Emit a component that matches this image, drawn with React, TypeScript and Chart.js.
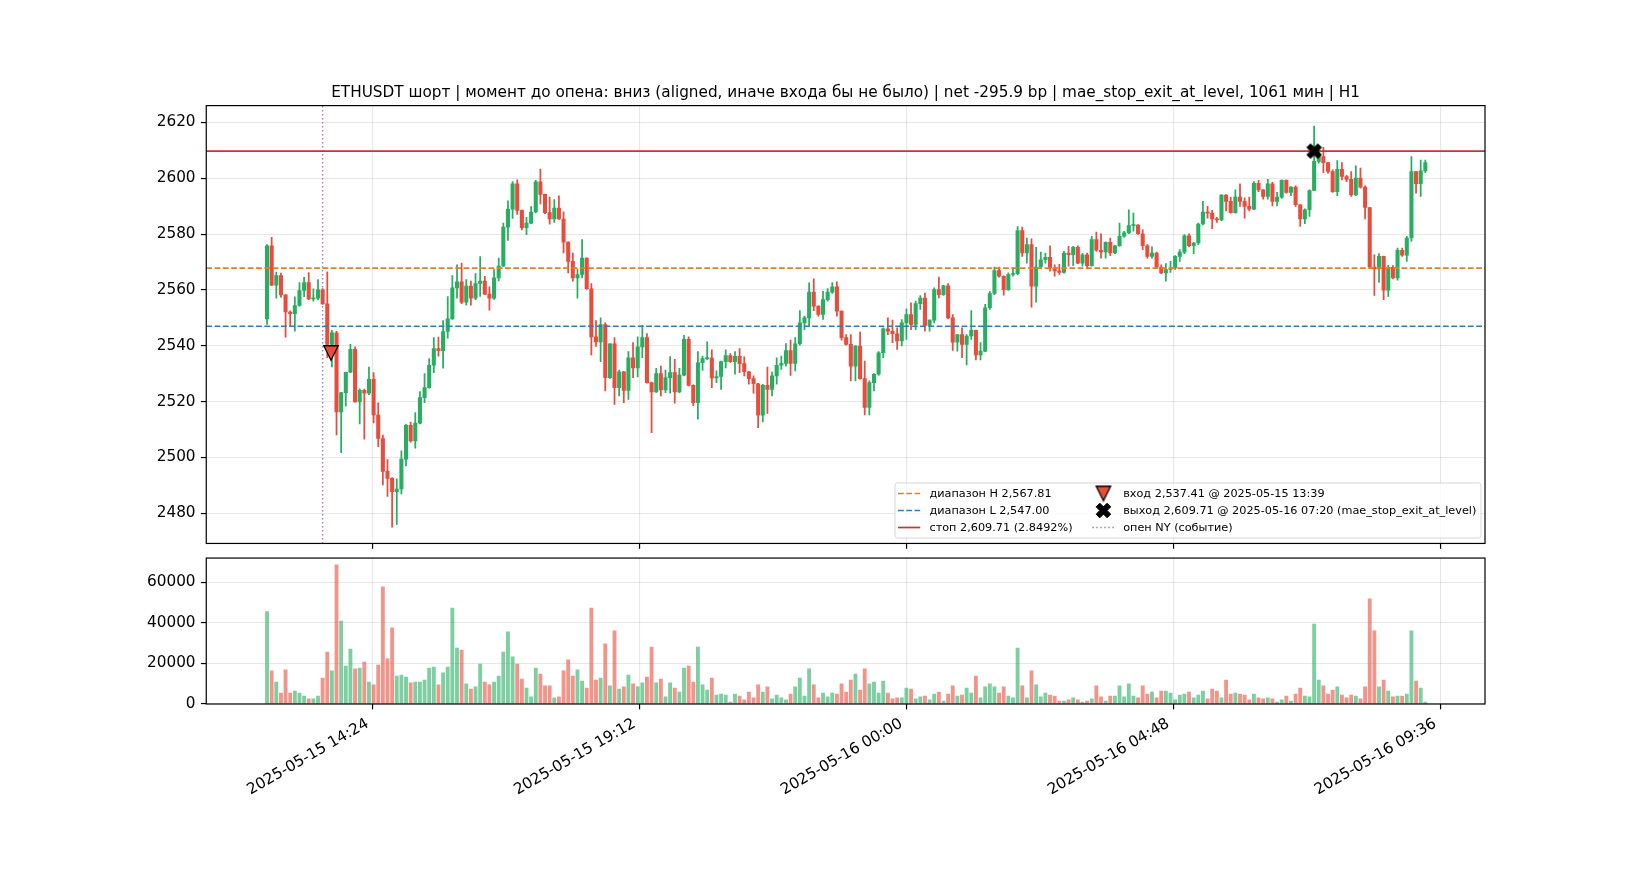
import React, { useEffect, useRef } from "react";
import { Chart, registerables } from "chart.js";

Chart.register(...registerables);

// ---------------- data ----------------
const chartTitle =
  "ETHUSDT шорт | момент до опена: вниз (aligned, иначе входа бы не было) | net -295.9 bp | mae_stop_exit_at_level, 1061 мин | H1";

// bar times: minutes since 2025-05-15 00:00, 5-minute candles from 12:30
const firstBarMinute = 750;
const barStepMinutes = 5;

const opens = [
  2549.6, 2575.8, 2561.7, 2565.1, 2558.2, 2552.1, 2551.5, 2554.4, 2559.8, 2562.6,
  2556.8, 2557.0, 2560.0, 2555.0, 2540.5, 2544.6, 2516.3, 2523.2, 2530.5, 2538.7,
  2519.9, 2524.0, 2523.0, 2528.0, 2515.2, 2506.8, 2495.0, 2492.5, 2487.7, 2488.7,
  2499.4, 2511.5, 2505.9, 2512.3, 2521.4, 2525.0, 2533.0, 2539.0, 2538.2, 2545.1,
  2549.6, 2560.7, 2562.9, 2555.6, 2561.4, 2557.0, 2562.3, 2563.2, 2558.5, 2557.0,
  2564.3, 2568.5, 2582.5, 2588.9, 2598.0, 2588.5, 2582.3, 2583.9, 2587.9, 2598.7,
  2594.2, 2587.7, 2585.4, 2589.3, 2585.4, 2577.1, 2570.2, 2564.3, 2565.5, 2571.4,
  2560.4, 2543.2, 2541.4, 2547.6, 2528.6, 2540.7, 2525.0, 2530.7, 2524.0, 2535.7,
  2532.1, 2539.6, 2542.9, 2526.8, 2523.5, 2530.0, 2524.2, 2528.6, 2530.4, 2523.5,
  2529.5, 2542.3, 2525.8, 2519.6, 2533.9, 2535.4, 2535.6, 2528.5, 2529.0, 2534.3,
  2536.5, 2534.3, 2536.2, 2533.6, 2530.7, 2528.2, 2526.4, 2515.1, 2525.8, 2524.4,
  2529.2, 2533.0, 2533.7, 2538.3, 2533.7, 2540.7, 2548.2, 2550.0, 2559.2, 2554.2,
  2551.2, 2556.5, 2559.2, 2561.1, 2552.4, 2542.9, 2540.5, 2532.7, 2539.9, 2528.2,
  2517.9, 2526.8, 2529.8, 2537.5, 2546.1, 2545.2, 2544.3, 2541.7, 2548.2, 2551.2,
  2547.6, 2555.1, 2557.1, 2547.3, 2549.2, 2560.1, 2558.3, 2561.5, 2550.0, 2541.3,
  2544.0, 2540.5, 2543.5, 2545.5, 2536.7, 2538.1, 2553.6, 2558.7, 2566.9, 2564.9,
  2560.1, 2565.5, 2565.8, 2581.2, 2573.2, 2576.2, 2561.3, 2568.2, 2570.8, 2571.7,
  2567.9, 2566.8, 2566.3, 2573.2, 2572.6, 2575.2, 2569.6, 2572.6, 2568.7, 2578.0,
  2574.2, 2573.6, 2577.0, 2573.2, 2575.8, 2579.2, 2580.4, 2583.0, 2583.2, 2580.1,
  2575.8, 2572.0, 2573.2, 2568.2, 2566.1, 2567.3, 2567.9, 2572.0, 2573.5, 2579.4,
  2575.8, 2576.8, 2583.6, 2587.9, 2587.5, 2585.4, 2585.1, 2594.0, 2591.7, 2587.7,
  2593.2, 2591.7, 2589.9, 2588.9, 2598.2, 2595.8, 2593.5, 2598.0, 2591.7, 2593.2,
  2599.2, 2594.9, 2596.8, 2590.5, 2585.4, 2588.7, 2595.6, 2606.0, 2607.7, 2605.6,
  2602.4, 2595.2, 2603.2, 2600.6, 2599.6, 2594.0, 2600.0, 2596.8, 2589.5, 2568.2,
  2567.5, 2572.0, 2559.9, 2568.1, 2564.3, 2574.2, 2572.4, 2578.6, 2602.4, 2598.0,
  2602.6,
];

const highs = [
  2576.2, 2578.8, 2566.4, 2566.0, 2558.3, 2552.5, 2557.5, 2562.6, 2564.5, 2566.2,
  2560.4, 2563.7, 2560.5, 2566.5, 2545.5, 2545.2, 2523.3, 2530.5, 2540.5, 2539.6,
  2524.6, 2524.5, 2532.4, 2530.4, 2519.6, 2508.0, 2499.2, 2492.8, 2492.3, 2502.4,
  2511.9, 2512.7, 2516.1, 2523.6, 2530.0, 2535.4, 2542.9, 2543.1, 2549.0, 2557.6,
  2565.1, 2569.0, 2569.6, 2563.7, 2563.2, 2565.8, 2571.9, 2564.9, 2561.1, 2567.3,
  2571.4, 2583.9, 2591.9, 2598.8, 2599.4, 2588.6, 2586.0, 2589.8, 2599.2, 2603.3,
  2594.3, 2593.2, 2592.3, 2593.7, 2588.0, 2577.2, 2573.2, 2567.5, 2578.0, 2571.5,
  2562.3, 2549.0, 2550.0, 2548.2, 2540.8, 2542.9, 2531.3, 2530.8, 2537.9, 2541.1,
  2543.2, 2547.3, 2544.4, 2527.0, 2531.9, 2532.7, 2531.3, 2536.1, 2535.1, 2531.9,
  2543.7, 2543.2, 2526.0, 2537.9, 2536.3, 2541.4, 2538.5, 2531.0, 2534.5, 2538.5,
  2537.2, 2537.9, 2539.0, 2536.0, 2530.8, 2529.2, 2526.5, 2526.2, 2532.4, 2530.6,
  2535.7, 2536.3, 2540.8, 2542.0, 2542.9, 2552.6, 2550.6, 2562.5, 2564.0, 2554.3,
  2559.5, 2560.5, 2562.6, 2562.9, 2552.5, 2544.0, 2544.0, 2540.1, 2544.9, 2534.5,
  2527.4, 2530.0, 2537.9, 2546.4, 2550.0, 2549.2, 2546.4, 2549.4, 2553.2, 2555.4,
  2556.0, 2558.0, 2558.9, 2549.3, 2560.7, 2564.6, 2561.6, 2562.3, 2551.2, 2544.1,
  2546.4, 2544.0, 2552.6, 2545.6, 2541.1, 2554.8, 2559.5, 2568.2, 2568.2, 2565.0,
  2566.1, 2567.9, 2582.7, 2582.5, 2578.6, 2578.3, 2575.2, 2573.5, 2573.2, 2575.8,
  2569.0, 2569.2, 2573.8, 2575.6, 2575.6, 2575.8, 2573.0, 2573.2, 2579.2, 2580.7,
  2580.1, 2577.2, 2578.6, 2576.0, 2583.9, 2581.0, 2588.7, 2587.5, 2583.4, 2581.5,
  2576.2, 2575.4, 2573.5, 2569.0, 2569.4, 2570.2, 2572.3, 2574.4, 2579.8, 2580.1,
  2577.0, 2583.9, 2591.7, 2589.9, 2588.5, 2586.0, 2594.1, 2594.1, 2593.2, 2595.8,
  2598.0, 2593.0, 2593.2, 2598.8, 2599.2, 2595.9, 2599.6, 2598.5, 2594.9, 2599.4,
  2599.4, 2597.0, 2597.3, 2590.6, 2589.0, 2595.8, 2618.7, 2610.4, 2611.1, 2605.7,
  2603.0, 2606.3, 2605.6, 2601.0, 2602.4, 2604.4, 2603.6, 2597.3, 2589.6, 2572.6,
  2573.0, 2572.1, 2568.8, 2568.7, 2575.0, 2575.0, 2579.2, 2607.7, 2602.5, 2606.5,
  2606.5,
];

const lows = [
  2547.6, 2561.5, 2557.0, 2557.4, 2543.1, 2547.0, 2545.2, 2554.2, 2557.6, 2556.5,
  2556.0, 2556.4, 2554.8, 2535.7, 2532.4, 2508.1, 2501.7, 2518.4, 2530.4, 2519.8,
  2512.0, 2506.5, 2522.5, 2512.4, 2503.9, 2490.2, 2486.0, 2475.0, 2476.0, 2486.9,
  2497.0, 2505.5, 2503.3, 2512.0, 2519.6, 2524.8, 2530.4, 2536.3, 2532.0, 2542.7,
  2549.4, 2557.0, 2555.1, 2554.5, 2554.5, 2556.5, 2557.7, 2558.3, 2552.7, 2556.6,
  2563.2, 2568.4, 2577.7, 2585.6, 2587.0, 2581.5, 2579.8, 2583.7, 2587.6, 2590.8,
  2587.3, 2583.5, 2584.2, 2585.2, 2573.2, 2566.1, 2563.1, 2557.0, 2564.3, 2560.2,
  2536.7, 2539.8, 2534.3, 2523.8, 2528.3, 2519.0, 2522.0, 2519.6, 2520.8, 2528.6,
  2528.8, 2535.7, 2526.6, 2508.9, 2523.3, 2522.0, 2523.2, 2523.0, 2519.4, 2523.2,
  2529.2, 2525.6, 2518.5, 2513.7, 2531.2, 2535.0, 2525.0, 2526.8, 2524.4, 2532.1,
  2534.0, 2529.8, 2530.4, 2529.2, 2526.2, 2523.0, 2510.7, 2512.7, 2515.8, 2522.0,
  2526.2, 2531.5, 2532.7, 2529.4, 2531.0, 2540.2, 2545.8, 2547.0, 2552.6, 2550.6,
  2549.4, 2556.0, 2558.7, 2550.6, 2542.0, 2540.2, 2527.4, 2527.4, 2528.0, 2515.2,
  2515.2, 2523.8, 2529.4, 2535.7, 2544.0, 2541.1, 2538.7, 2539.9, 2542.3, 2545.8,
  2545.8, 2553.0, 2545.2, 2545.2, 2548.2, 2557.1, 2558.0, 2549.6, 2538.3, 2538.1,
  2535.7, 2533.1, 2542.3, 2534.9, 2534.9, 2537.9, 2553.0, 2558.3, 2564.6, 2558.1,
  2559.8, 2564.9, 2565.4, 2572.0, 2569.6, 2553.8, 2555.6, 2567.9, 2569.6, 2566.7,
  2564.9, 2565.5, 2566.0, 2568.5, 2568.7, 2569.4, 2568.5, 2567.5, 2568.5, 2573.8,
  2571.4, 2571.4, 2572.3, 2573.0, 2575.6, 2578.9, 2580.1, 2581.0, 2579.9, 2574.4,
  2571.4, 2571.4, 2567.9, 2565.8, 2563.1, 2566.3, 2567.3, 2570.2, 2573.0, 2575.4,
  2573.0, 2576.2, 2583.3, 2585.7, 2581.9, 2584.2, 2584.8, 2588.3, 2587.5, 2587.5,
  2589.9, 2585.7, 2588.3, 2588.7, 2595.2, 2592.5, 2592.5, 2590.1, 2590.1, 2592.8,
  2594.6, 2593.7, 2589.9, 2582.7, 2583.7, 2586.3, 2595.5, 2605.4, 2602.0, 2601.8,
  2594.9, 2593.7, 2599.4, 2598.8, 2593.5, 2593.7, 2596.4, 2585.4, 2567.9, 2558.0,
  2562.7, 2556.5, 2557.7, 2563.9, 2563.5, 2572.0, 2570.2, 2577.4, 2594.6, 2593.5,
  2602.0,
];

const closes = [
  2575.8, 2561.7, 2565.1, 2558.2, 2552.1, 2551.5, 2554.4, 2559.8, 2562.6, 2556.8,
  2557.0, 2560.0, 2555.0, 2540.5, 2544.6, 2516.3, 2523.2, 2530.5, 2538.7, 2519.9,
  2524.0, 2523.0, 2528.0, 2515.2, 2506.8, 2495.0, 2492.5, 2487.7, 2488.7, 2499.4,
  2511.5, 2505.9, 2512.3, 2521.4, 2525.0, 2533.0, 2539.0, 2538.2, 2545.1, 2549.6,
  2560.7, 2562.9, 2555.6, 2561.4, 2557.0, 2562.3, 2563.2, 2558.5, 2557.0, 2564.3,
  2568.5, 2582.5, 2588.9, 2598.0, 2588.5, 2582.3, 2583.9, 2587.9, 2598.7, 2594.2,
  2587.7, 2585.4, 2589.3, 2585.4, 2577.1, 2570.2, 2564.3, 2565.5, 2571.4, 2560.4,
  2543.2, 2541.4, 2547.6, 2528.6, 2540.7, 2525.0, 2530.7, 2524.0, 2535.7, 2532.1,
  2539.6, 2542.9, 2526.8, 2523.5, 2530.0, 2524.2, 2528.6, 2530.4, 2523.5, 2529.5,
  2542.3, 2525.8, 2519.6, 2533.9, 2535.4, 2535.6, 2528.5, 2529.0, 2534.3, 2536.5,
  2534.3, 2536.2, 2533.6, 2530.7, 2528.2, 2526.4, 2515.1, 2525.8, 2524.4, 2529.2,
  2533.0, 2533.7, 2538.3, 2533.7, 2540.7, 2548.2, 2550.0, 2559.2, 2554.2, 2551.2,
  2556.5, 2559.2, 2561.1, 2552.4, 2542.9, 2540.5, 2532.7, 2539.9, 2528.2, 2517.9,
  2526.8, 2529.8, 2537.5, 2546.1, 2545.2, 2544.3, 2541.7, 2548.2, 2551.2, 2547.6,
  2555.1, 2557.1, 2547.3, 2549.2, 2560.1, 2558.3, 2561.5, 2550.0, 2541.3, 2544.0,
  2540.5, 2543.5, 2545.5, 2536.7, 2538.1, 2553.6, 2558.7, 2566.9, 2564.9, 2560.1,
  2565.5, 2565.8, 2581.2, 2573.2, 2576.2, 2561.3, 2568.2, 2570.8, 2571.7, 2567.9,
  2566.8, 2566.3, 2573.2, 2572.6, 2575.2, 2569.6, 2572.6, 2568.7, 2578.0, 2574.2,
  2573.6, 2577.0, 2573.2, 2575.8, 2579.2, 2580.4, 2583.0, 2583.2, 2580.1, 2575.8,
  2572.0, 2573.2, 2568.2, 2566.1, 2567.3, 2567.9, 2572.0, 2573.5, 2579.4, 2575.8,
  2576.8, 2583.6, 2587.9, 2587.5, 2585.4, 2585.1, 2594.0, 2591.7, 2587.7, 2593.2,
  2591.7, 2589.9, 2588.9, 2598.2, 2595.8, 2593.5, 2598.0, 2591.7, 2593.2, 2599.2,
  2594.9, 2596.8, 2590.5, 2585.4, 2588.7, 2595.6, 2606.0, 2607.7, 2605.6, 2602.4,
  2595.2, 2603.2, 2600.6, 2599.6, 2594.0, 2600.0, 2596.8, 2589.5, 2568.2, 2567.5,
  2572.0, 2559.9, 2568.1, 2564.3, 2574.2, 2572.4, 2578.6, 2602.4, 2598.0, 2602.6,
  2605.6,
];

const volumes = [
  45500, 16300, 10800, 5400, 16800, 5400, 6400, 5400, 3900, 2500,
  2500, 3900, 12800, 25600, 16300, 68500, 40900, 18700, 27100, 17300,
  17700, 20700, 10800, 9400, 19200, 57700, 22200, 37500, 13800, 14300,
  13300, 10400, 10800, 10800, 11800, 17700, 18200, 9400, 15300, 18200,
  47300, 27600, 26600, 9900, 7400, 8400, 19700, 10800, 9400, 10800,
  13800, 25600, 35500, 23200, 19700, 12300, 7900, 3500, 17700, 14800,
  8900, 8900, 3000, 3500, 16300, 21700, 13800, 16800, 11300, 7900,
  47300, 11800, 12800, 29600, 8900, 36000, 7400, 8400, 14300, 9900,
  8400, 10400, 13300, 28100, 10400, 12300, 3500, 10400, 7900, 5900,
  17700, 18700, 10800, 28100, 9400, 6900, 12800, 4400, 4900, 4400,
  1000, 4900, 3900, 2000, 5900, 3000, 9400, 5900, 8400, 2500,
  4400, 3000, 2000, 4900, 8400, 12800, 3900, 17300, 9400, 3000,
  5400, 3500, 5400, 4900, 9900, 5900, 11800, 14800, 6900, 17300,
  9900, 10800, 5400, 11300, 5400, 2500, 3000, 3000, 7900, 7400,
  2500, 3500, 3900, 2000, 4900, 5900, 1500, 4900, 8900, 3900,
  4400, 7900, 5400, 13800, 3000, 8400, 9900, 8400, 5400, 8400,
  3900, 3000, 27600, 8900, 3000, 16300, 9400, 3500, 5400, 4400,
  3900, 1500, 1500, 2000, 3000, 2000, 1000, 1500, 2500, 8900,
  3500, 1500, 3900, 3900, 8900, 3500, 9900, 3900, 3000, 8900,
  4900, 5900, 3000, 6400, 6400, 5400, 2000, 4400, 4900, 5900,
  3000, 4400, 6400, 2500, 7400, 6400, 3000, 11800, 4900, 5400,
  4900, 4400, 2000, 4900, 3000, 2500, 3000, 2500, 1000, 2000,
  3900, 1500, 4900, 7900, 3900, 3500, 39400, 11800, 8900, 4900,
  6900, 8400, 4400, 3000, 4400, 3900, 2500, 8400, 51800, 36000,
  8400, 11800, 6400, 3500, 3900, 3900, 4900, 36000, 11300, 7900,
  1000,
];

const barMinutes = opens.map((_, i) => firstBarMinute + i * barStepMinutes);

const xTickMinutes = [864, 1152, 1440, 1728, 2016];
const xTickLabels = [
  "2025-05-15 14:24",
  "2025-05-15 19:12",
  "2025-05-16 00:00",
  "2025-05-16 04:48",
  "2025-05-16 09:36",
];
const priceTicks = [2480, 2500, 2520, 2540, 2560, 2580, 2600, 2620];
const volumeTicks = [0, 20000, 40000, 60000];

const rangeHigh = 2567.81;
const rangeLow = 2547.0;
const stopPrice = 2609.71;
const entryMinute = 819; // 2025-05-15 13:39
const entryPrice = 2537.41;
const exitMinute = 1880; // 2025-05-16 07:20
const exitPrice = 2609.71;
const nyOpenMinute = 810; // 13:30

const legendLabels = [
  "диапазон H 2,567.81",
  "диапазон L 2,547.00",
  "стоп 2,609.71 (2.8492%)",
  "вход 2,537.41 @ 2025-05-15 13:39",
  "выход 2,609.71 @ 2025-05-16 07:20 (mae_stop_exit_at_level)",
  "опен NY (событие)",
];

// ---------------- layout / style ----------------
const W = 1650;
const H = 880;
const AX_L = 206.25;
const AX_R = 1485;
const P_TOP = 105.6;
const P_BOT = 543.45;
const V_TOP = 558.05;
const V_BOT = 704;
const X_MIN = 684.4;
const X_MAX = 2064.4;
const P_MIN = 2469.2;
const P_MAX = 2626.0;
const V_MAX = 71900;
const Y_W = 60;
const HA = 560;

const FONT = '"DejaVu Sans", "Liberation Sans", sans-serif';
const UP = "#27ae60";
const DOWN = "#e74c3c";
const UP_V = "rgba(39,174,96,0.6)";
const DOWN_V = "rgba(231,76,60,0.6)";
const ORANGE = "#e67e22";
const BLUE = "#2980b9";
const STOP = "#c0392b";
const PURPLE = "rgba(155,89,182,0.8)";
const GRIDC = "rgba(176,176,176,0.3)";

const LEG = {
  x0: 895,
  y0: 483,
  x1: 1481,
  y1: 538,
  rows: [493.5, 510.5, 527.5],
  c1h0: 898,
  c1h1: 920.2,
  c1t: 929.5,
  c2h0: 1092.3,
  c2h1: 1114.5,
  c2m: 1103.4,
  c2t: 1123.2,
};

function makeTriangleDown(size: number) {
  const d = Math.ceil(size + 5);
  const c = document.createElement("canvas");
  c.width = d;
  c.height = d;
  const g = c.getContext("2d")!;
  const m = d / 2;
  const h = size / 2;
  g.beginPath();
  g.moveTo(m - h, m - h);
  g.lineTo(m + h, m - h);
  g.lineTo(m, m + h);
  g.closePath();
  g.fillStyle = DOWN;
  g.fill();
  g.lineWidth = 1.3;
  g.lineJoin = "miter";
  g.strokeStyle = "#000";
  g.stroke();
  return c;
}

function makeFilledX(size: number) {
  const pts = [
    [-1, -3], [1, -3], [1, -1], [3, -1], [3, 1], [1, 1],
    [1, 3], [-1, 3], [-1, 1], [-3, 1], [-3, -1], [-1, -1],
  ];
  const d = Math.ceil(size + 5);
  const c = document.createElement("canvas");
  c.width = d;
  c.height = d;
  const g = c.getContext("2d")!;
  const m = d / 2;
  const s = size / 6;
  const k = Math.SQRT1_2;
  g.beginPath();
  pts.forEach(([px, py], i) => {
    const rx = (px - py) * k * s;
    const ry = (px + py) * k * s;
    if (i === 0) g.moveTo(m + rx, m + ry);
    else g.lineTo(m + rx, m + ry);
  });
  g.closePath();
  g.fillStyle = "#000";
  g.fill();
  g.lineWidth = 1;
  g.strokeStyle = "#000";
  g.stroke();
  return c;
}

const gridStyle = {
  color: GRIDC,
  lineWidth: 1.1,
  tickColor: "#000",
  tickLength: 5.35,
  tickWidth: 1.2,
  offset: false,
  drawTicks: true,
};

const tickFont = { family: FONT, size: 15.28 };

const framePlugin = {
  id: "frame",
  afterDraw(chart: any) {
    const { ctx, chartArea } = chart;
    ctx.save();
    ctx.strokeStyle = "#000";
    ctx.lineWidth = 1.2;
    ctx.strokeRect(chartArea.left, chartArea.top, chartArea.right - chartArea.left, chartArea.bottom - chartArea.top);
    ctx.restore();
  },
};

const titlePlugin = {
  id: "figTitle",
  afterDraw(chart: any) {
    const { ctx } = chart;
    ctx.save();
    ctx.font = `15.28px ${FONT}`;
    ctx.fillStyle = "#000";
    ctx.textAlign = "center";
    ctx.textBaseline = "alphabetic";
    ctx.fillText(chartTitle, (AX_L + AX_R) / 2, 96.5);
    ctx.restore();
  },
};

function handleLine(g: CanvasRenderingContext2D, x0: number, x1: number, y: number, color: string, w: number, dash: number[]) {
  g.save();
  g.beginPath();
  g.setLineDash(dash);
  g.strokeStyle = color;
  g.lineWidth = w;
  g.moveTo(x0, y);
  g.lineTo(x1, y);
  g.stroke();
  g.restore();
}

function makeLegendPlugin(tri: HTMLCanvasElement, xm: HTMLCanvasElement) {
  return {
    id: "tradeLegend",
    afterDraw(chart: any) {
      const g: CanvasRenderingContext2D = chart.ctx;
      g.save();
      g.beginPath();
      (g as any).roundRect(LEG.x0, LEG.y0, LEG.x1 - LEG.x0, LEG.y1 - LEG.y0, 2.5);
      g.fillStyle = "rgba(255,255,255,0.8)";
      g.fill();
      g.lineWidth = 1;
      g.strokeStyle = "rgba(204,204,204,0.8)";
      g.stroke();

      const r = LEG.rows;
      handleLine(g, LEG.c1h0, LEG.c1h1, r[0], ORANGE, 1.6, [5.8, 2.5]);
      handleLine(g, LEG.c1h0, LEG.c1h1, r[1], BLUE, 1.6, [5.8, 2.5]);
      handleLine(g, LEG.c1h0, LEG.c1h1, r[2], STOP, 1.7, []);
      g.drawImage(tri, LEG.c2m - tri.width / 2, r[0] - tri.height / 2);
      g.drawImage(xm, LEG.c2m - xm.width / 2, r[1] - xm.height / 2);
      handleLine(g, LEG.c2h0, LEG.c2h1, r[2], PURPLE, 1.5, [1.5, 2.5]);

      g.font = `11.25px ${FONT}`;
      g.fillStyle = "#000";
      g.textAlign = "left";
      g.textBaseline = "middle";
      g.fillText(legendLabels[0], LEG.c1t, r[0] + 0.5);
      g.fillText(legendLabels[1], LEG.c1t, r[1] + 0.5);
      g.fillText(legendLabels[2], LEG.c1t, r[2] + 0.5);
      g.fillText(legendLabels[3], LEG.c2t, r[0] + 0.5);
      g.fillText(legendLabels[4], LEG.c2t, r[1] + 0.5);
      g.fillText(legendLabels[5], LEG.c2t, r[2] + 0.5);
      g.restore();
    },
  };
}

export default function App() {
  const priceRef = useRef<HTMLCanvasElement>(null);
  const volRef = useRef<HTMLCanvasElement>(null);

  useEffect(() => {
    const prevMargin = document.body.style.margin;
    document.body.style.margin = "0";
    Chart.defaults.font.family = FONT;
    Chart.defaults.color = "#000";

    const tri = makeTriangleDown(14.5);
    const xm = makeFilledX(15.5);

    const candleColors = opens.map((o, i) => (closes[i] >= o ? UP : DOWN));
    const volColors = opens.map((o, i) => (closes[i] >= o ? UP_V : DOWN_V));

    const priceChart = new Chart(priceRef.current!, {
      type: "bar",
      data: {
        datasets: [
          {
            type: "scatter",
            data: [{ x: entryMinute, y: entryPrice }],
            pointStyle: tri as any,
            pointRadius: 9,
            showLine: false,
            order: 0,
          } as any,
          {
            type: "scatter",
            data: [{ x: exitMinute, y: exitPrice }],
            pointStyle: xm as any,
            pointRadius: 9,
            showLine: false,
            order: 0,
          } as any,
          {
            type: "line",
            data: [{ x: X_MIN, y: rangeHigh }, { x: X_MAX, y: rangeHigh }],
            borderColor: ORANGE,
            borderWidth: 1.6,
            borderDash: [5.8, 2.5],
            pointRadius: 0,
            fill: false,
            order: 1,
          } as any,
          {
            type: "line",
            data: [{ x: X_MIN, y: rangeLow }, { x: X_MAX, y: rangeLow }],
            borderColor: BLUE,
            borderWidth: 1.6,
            borderDash: [5.8, 2.5],
            pointRadius: 0,
            fill: false,
            order: 1,
          } as any,
          {
            type: "line",
            data: [{ x: X_MIN, y: stopPrice }, { x: X_MAX, y: stopPrice }],
            borderColor: STOP,
            borderWidth: 1.7,
            pointRadius: 0,
            fill: false,
            order: 1,
          } as any,
          {
            type: "line",
            data: [{ x: nyOpenMinute, y: P_MIN }, { x: nyOpenMinute, y: P_MAX }],
            borderColor: PURPLE,
            borderWidth: 1.5,
            borderDash: [1.5, 2.5],
            pointRadius: 0,
            fill: false,
            order: 1,
          } as any,
          {
            type: "bar",
            data: barMinutes.map((x, i) => ({ x, y: [opens[i], closes[i]] })),
            backgroundColor: candleColors,
            borderWidth: 0,
            barThickness: 3.4,
            minBarLength: 1,
            grouped: false,
            order: 2,
          } as any,
          {
            type: "bar",
            data: barMinutes.map((x, i) => ({ x, y: [lows[i], highs[i]] })),
            backgroundColor: candleColors,
            borderWidth: 0,
            barThickness: 1.1,
            minBarLength: 1,
            grouped: false,
            order: 3,
          } as any,
        ],
      },
      options: {
        animation: false,
        responsive: false,
        maintainAspectRatio: false,
        events: [],
        layout: {
          padding: { left: AX_L - Y_W, right: W - AX_R, top: P_TOP, bottom: HA - P_BOT - 10 },
        },
        plugins: { legend: { display: false }, tooltip: { enabled: false }, title: { display: false } },
        scales: {
          x: {
            type: "linear",
            min: X_MIN,
            max: X_MAX,
            offset: false,
            grid: gridStyle,
            border: { display: false },
            ticks: { display: false },
            afterBuildTicks: (s: any) => {
              s.ticks = xTickMinutes.map((v) => ({ value: v }));
            },
            afterFit: (s: any) => {
              s.height = 10;
            },
          },
          y: {
            type: "linear",
            min: P_MIN,
            max: P_MAX,
            grid: gridStyle,
            border: { display: false },
            ticks: { color: "#000", font: tickFont, padding: 5.35, callback: (v: any) => String(v) },
            afterBuildTicks: (s: any) => {
              s.ticks = priceTicks.map((v) => ({ value: v }));
            },
            afterFit: (s: any) => {
              s.width = Y_W;
            },
          },
        },
      } as any,
      plugins: [framePlugin, titlePlugin, makeLegendPlugin(tri, xm)],
    });

    const volChart = new Chart(volRef.current!, {
      type: "bar",
      data: {
        datasets: [
          {
            data: barMinutes.map((x, i) => ({ x, y: volumes[i] })),
            backgroundColor: volColors,
            borderWidth: 0,
            barThickness: 3.2,
            grouped: false,
          } as any,
        ],
      },
      options: {
        animation: false,
        responsive: false,
        maintainAspectRatio: false,
        events: [],
        layout: {
          padding: { left: AX_L - Y_W, right: W - AX_R, top: V_TOP, bottom: H - V_BOT - 150 },
        },
        plugins: { legend: { display: false }, tooltip: { enabled: false }, title: { display: false } },
        scales: {
          x: {
            type: "linear",
            min: X_MIN,
            max: X_MAX,
            offset: false,
            grid: gridStyle,
            border: { display: false },
            ticks: {
              display: true,
              autoSkip: false,
              minRotation: 30,
              maxRotation: 30,
              padding: 5.35,
              labelOffset: -5,
              color: "#000",
              font: tickFont,
              callback: (_v: any, i: number) => xTickLabels[i],
            },
            afterBuildTicks: (s: any) => {
              s.ticks = xTickMinutes.map((v) => ({ value: v }));
            },
            afterFit: (s: any) => {
              s.height = 150;
            },
          },
          y: {
            type: "linear",
            min: 0,
            max: V_MAX,
            grid: gridStyle,
            border: { display: false },
            ticks: { color: "#000", font: tickFont, padding: 5.35, callback: (v: any) => String(v) },
            afterBuildTicks: (s: any) => {
              s.ticks = volumeTicks.map((v) => ({ value: v }));
            },
            afterFit: (s: any) => {
              s.width = Y_W;
            },
          },
        },
      } as any,
      plugins: [framePlugin],
    });

    return () => {
      priceChart.destroy();
      volChart.destroy();
      document.body.style.margin = prevMargin;
    };
  }, []);

  return (
    <div style={{ position: "fixed", left: 0, top: 0, width: W, height: H, background: "#fff", overflow: "hidden" }}>
      <canvas
        ref={priceRef}
        width={W}
        height={HA}
        style={{ position: "absolute", left: 0, top: 0, width: W, height: HA }}
      />
      <canvas
        ref={volRef}
        width={W}
        height={H}
        style={{ position: "absolute", left: 0, top: 0, width: W, height: H }}
      />
    </div>
  );
}
